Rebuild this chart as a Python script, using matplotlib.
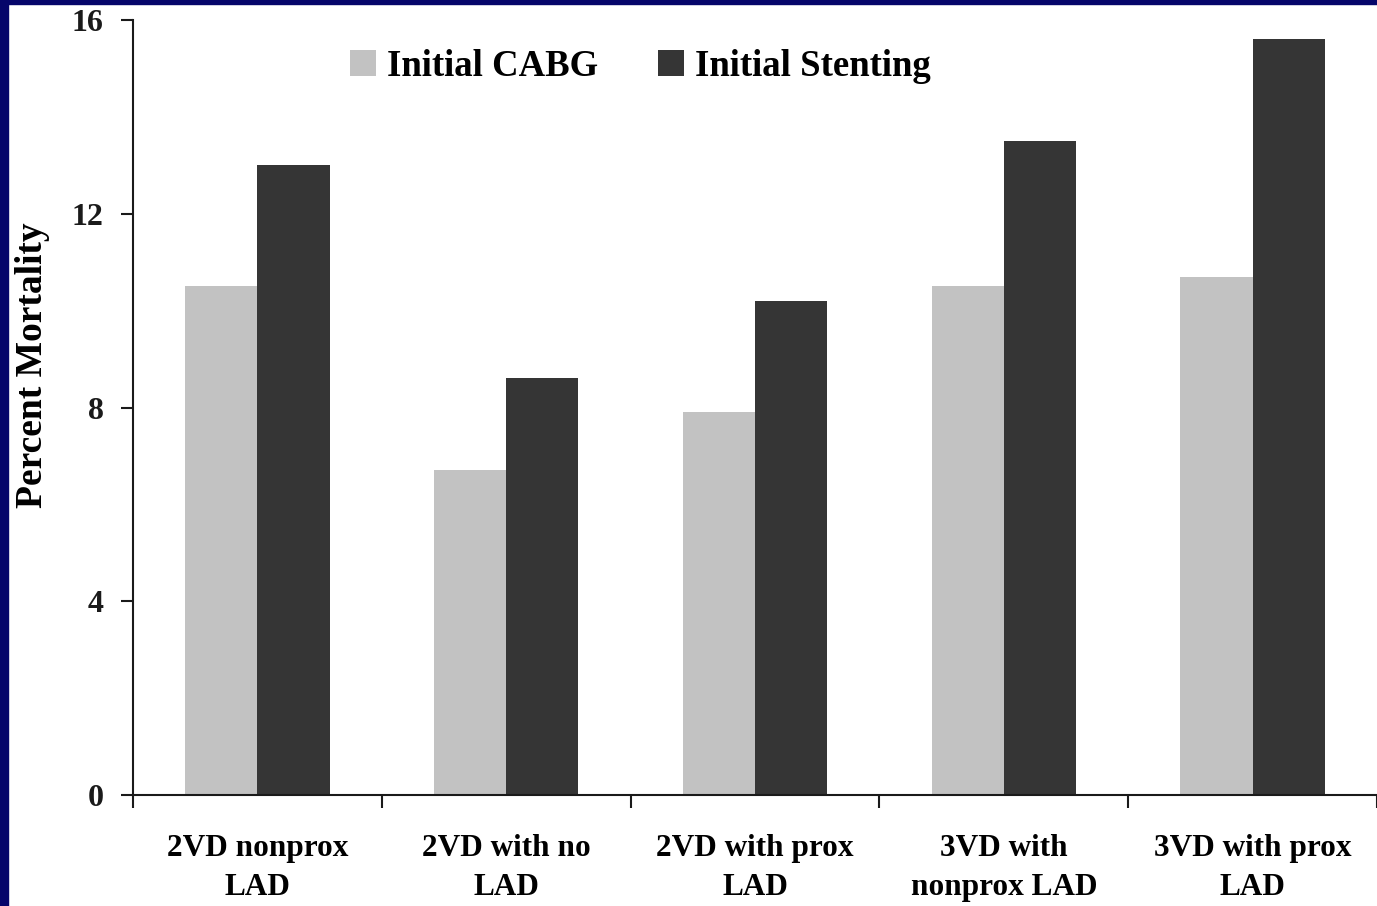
import matplotlib
matplotlib.use("Agg")
import matplotlib.pyplot as plt
import matplotlib.patches as mpatches
import numpy as np

plt.rcParams['font.family'] = ['Liberation Serif', 'DejaVu Serif']
plt.rcParams['font.weight'] = 'bold'

# data
categories = ["2VD nonprox\nLAD", "2VD with no\nLAD", "2VD with prox\nLAD",
              "3VD with\nnonprox LAD", "3VD with prox\nLAD"]
cabg = [10.5, 6.7, 7.9, 10.5, 10.7]
stenting = [13.0, 8.6, 10.2, 13.5, 15.6]
series_names = ["Initial CABG", "Initial Stenting"]
yticks = [0, 4, 8, 12, 16]

fig = plt.figure(figsize=(13.77, 9.06), dpi=100)
fig.patch.set_facecolor("white")

# slide background showing at the left and top edges
fig.patches.append(mpatches.Rectangle((0, 0), 8 / 1377, 1, transform=fig.transFigure,
                                      color="#05056a", zorder=0))
fig.patches.append(mpatches.Rectangle((0, 1 - 4 / 906), 1, 4 / 906, transform=fig.transFigure,
                                      color="#05056a", zorder=0))

ax = fig.add_axes([133 / 1377, 1 - 795 / 906, 1 - 133 / 1377, (795 - 20) / 906])

x = np.arange(len(categories))
w = 0.29
ax.bar(x - w / 2, cabg, w, color="#c2c2c2", label=series_names[0])
ax.bar(x + w / 2, stenting, w, color="#353535", label=series_names[1])

ax.set_xlim(-0.5, len(categories) - 0.5)
ax.set_ylim(0, 16)

for s in ["top", "right"]:
    ax.spines[s].set_visible(False)
for s in ["left", "bottom"]:
    ax.spines[s].set_linewidth(1.5)
    ax.spines[s].set_color("#1a1a1a")

ax.set_yticks(yticks)
ax.set_yticklabels([str(v) for v in yticks], fontsize=23, fontweight="bold")
ax.tick_params(axis="y", length=9, width=1.5, pad=12, colors="#1a1a1a")

ax.set_xticks(x)
ax.set_xticklabels(categories, fontsize=22.5, fontweight="bold", linespacing=1.45)
ax.tick_params(axis="x", which="major", length=0, pad=28)
ax.set_xticks(np.arange(-0.5, len(categories) + 0.5, 1), minor=True)
ax.tick_params(axis="x", which="minor", length=9, width=1.5, colors="#1a1a1a")

ax.set_ylabel("Percent Mortality", fontsize=27, fontweight="bold")
ax.yaxis.set_label_coords(-0.067, 0.555)

leg = fig.legend(loc="center", bbox_to_anchor=(0.4652, 1 - 66 / 906), ncol=2,
                 frameon=False, prop={"size": 26.5, "weight": "bold"},
                 handlelength=0.7, handleheight=0.7, handletextpad=0.3,
                 columnspacing=1.63)

fig.savefig("out.png", dpi=100, facecolor="white")
